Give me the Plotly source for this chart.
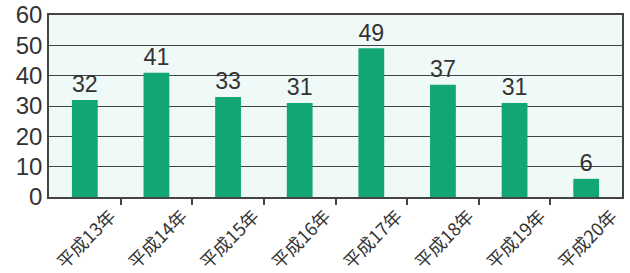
import plotly.graph_objects as go

categories = ["平成13年", "平成14年", "平成15年", "平成16年", "平成17年", "平成18年", "平成19年", "平成20年"]
values = [32, 41, 33, 31, 49, 37, 31, 6]
y_ticks = [0, 10, 20, 30, 40, 50, 60]

n = len(categories)
xs = list(range(n))

fig = go.Figure()
fig.add_trace(go.Bar(
    x=xs, y=values, width=0.36,
    marker=dict(color="#12a673", line=dict(width=0)),
    text=[str(v) for v in values], textposition="outside",
    textfont=dict(size=24, color="#333333", family="Liberation Sans"),
    cliponaxis=False,
))

fig.update_layout(
    width=630, height=273,
    margin=dict(l=49, r=8, t=15, b=76, autoexpand=False),
    paper_bgcolor="white", plot_bgcolor="#effaf8",
    showlegend=False,
    font=dict(family="Liberation Sans", color="#333333"),
    xaxis=dict(
        automargin=False,
        range=[-0.5, n - 0.5],
        tickmode="array",
        tickvals=[i + 0.36 for i in xs],
        ticktext=categories,
        tickangle=-45,
        ticks="",
        ticklabeloverflow="allow",
        tickfont=dict(size=18, family="Noto Sans CJK JP", color="#333333"),
        showgrid=False, zeroline=False,
        showline=True, linecolor="#444444", linewidth=1.5, mirror=True,
        minor=dict(tickmode="array", tickvals=[i + 0.5 for i in xs[:-1]],
                   ticks="outside", ticklen=6, tickcolor="#444444", tickwidth=1.5),
    ),
    yaxis=dict(
        automargin=False,
        range=[0, 60],
        tickmode="array", tickvals=y_ticks,
        ticks="",
        ticklabeloverflow="allow",
        tickfont=dict(size=24, family="Liberation Sans", color="#333333"),
        showgrid=True, gridcolor="#444444", gridwidth=1,
        zeroline=False,
        showline=True, linecolor="#444444", linewidth=1.5, mirror=True,
    ),
)

# remove the browser's default 8px body margin so the figure fills the window
fig.write_html("out.html", config={"displayModeBar": False},
               post_script="document.body.style.margin='0';")
